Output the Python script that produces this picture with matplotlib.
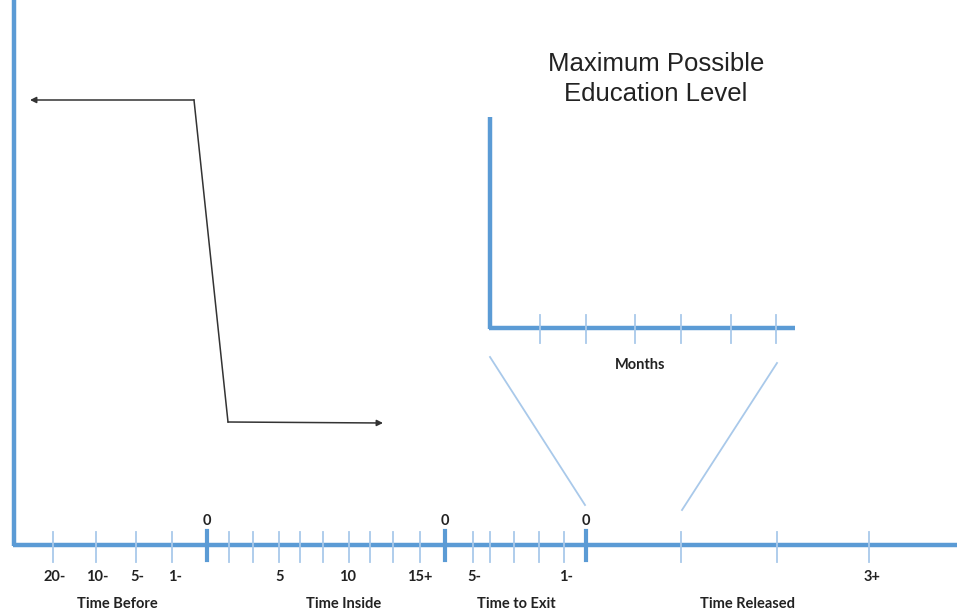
import matplotlib.pyplot as plt

# schematic timeline, drawn in a pixel-like data space (x right, y down)
blue = '#5b9bd5'
light = '#a9c9ea'

# main axis ticks
minor_ticks = [53, 96, 136, 172, 229, 253, 279, 300, 323, 349, 370, 393, 420,
               473, 490, 514, 539, 564, 681, 777, 869]
zero_ticks = [207, 445, 586]
tick_labels = ['20-', '10-', '5-', '1-', '5', '10', '15+', '5-', '1-', '3+']
tick_label_x = [55, 97, 137, 175, 280, 348, 420, 474, 566, 872]
groups = ['Time Before', 'Time Inside', 'Time to Exit', 'Time Released']
group_x = [117, 344, 516, 748]

# inset (zoom) axis
inset_ticks = [540, 586, 635, 681, 731, 776]

# step curve
curve_x = [194, 228]
curve_y = [100, 422]

lab_kw = dict(ha='center', va='center', fontsize=10.5, fontweight='bold',
              family='Lato', color='#222222')

fig = plt.figure(figsize=(9.57, 6.12), dpi=100)
ax = fig.add_axes([0, 0, 1, 1])
ax.set_xlim(0, 957)
ax.set_ylim(612, 0)
ax.axis('off')

# main axes
ax.plot([14, 14], [0, 546], color=blue, lw=3.2, solid_capstyle='butt')
ax.plot([13, 957], [545, 545], color=blue, lw=3.2, solid_capstyle='butt')
for x in minor_ticks:
    ax.plot([x, x], [532, 562], color=light, lw=1.3)
for x in zero_ticks:
    ax.plot([x, x], [531, 560], color=blue, lw=3)
    ax.text(x, 521, '0', **lab_kw)
for lab, x in zip(tick_labels, tick_label_x):
    ax.text(x, 577, lab, **lab_kw)
for lab, x in zip(groups, group_x):
    ax.text(x, 604, lab, **lab_kw)

# inset
ax.plot([490, 490], [117, 329], color=blue, lw=3.2, solid_capstyle='butt')
ax.plot([489, 795], [328, 328], color=blue, lw=3.2, solid_capstyle='butt')
for x in inset_ticks:
    ax.plot([x, x], [315, 343], color=light, lw=1.3)
ax.text(640, 365, 'Months', **lab_kw)
ax.text(656, 79, 'Maximum Possible\nEducation Level', ha='center', va='center',
        fontsize=18.5, family='Liberation Sans', color='#222222', linespacing=1.3)

# zoom connector lines
ax.plot([490, 585], [357, 505], color=light, lw=1.3)
ax.plot([777, 682], [363, 510], color=light, lw=1.3)

# step curve with arrows
ax.plot([curve_x[0], curve_x[1]], curve_y, color='#333333', lw=1.1)
ax.annotate('', xy=(30, 100), xytext=(curve_x[0], curve_y[0]),
            arrowprops=dict(arrowstyle='-|>', color='#333333', lw=1.1,
                            mutation_scale=9, shrinkA=0, shrinkB=0))
ax.annotate('', xy=(383, 423), xytext=(curve_x[1], curve_y[1]),
            arrowprops=dict(arrowstyle='-|>', color='#333333', lw=1.1,
                            mutation_scale=9, shrinkA=0, shrinkB=0))

plt.savefig('out.png', dpi=100)
